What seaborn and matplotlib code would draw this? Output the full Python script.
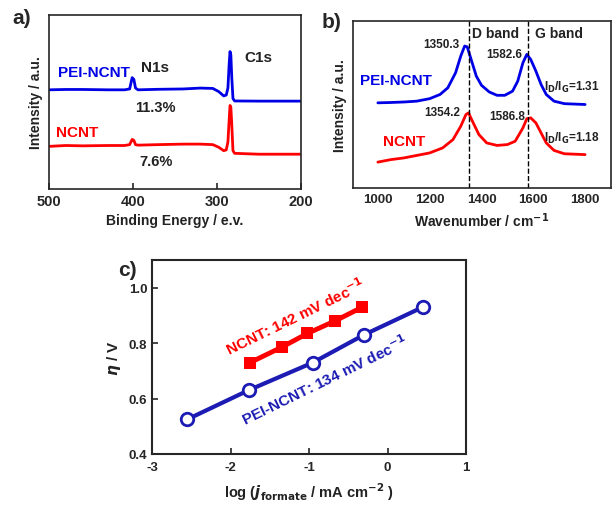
import matplotlib
matplotlib.use("Agg")
import matplotlib.pyplot as plt
import seaborn as sns
import numpy as np

# XPS survey (a)
xps_x = [500, 480, 460, 430, 410, 404, 401, 399, 397, 394, 370, 340, 320, 305, 298, 292,
         289, 287, 285.5, 284.5, 283.5, 282.5, 281, 279, 250, 200]
xps_pei = [0.57, 0.572, 0.572, 0.57, 0.57, 0.575, 0.64, 0.63, 0.58, 0.57, 0.573, 0.575, 0.58,
           0.578, 0.56, 0.535, 0.54, 0.58, 0.72, 0.79, 0.77, 0.65, 0.52, 0.506, 0.505, 0.505]
xps_ncnt = [0.245, 0.25, 0.248, 0.25, 0.25, 0.255, 0.285, 0.28, 0.255, 0.252, 0.255, 0.258,
            0.258, 0.255, 0.24, 0.22, 0.225, 0.27, 0.40, 0.48, 0.47, 0.38, 0.22, 0.205, 0.20, 0.20]

# Raman (b)
raman_x_pei = [1000, 1050, 1100, 1150, 1200, 1240, 1270, 1300, 1320, 1335, 1345, 1360, 1380,
               1400, 1430, 1460, 1490, 1520, 1540, 1560, 1575, 1590, 1610, 1630, 1650, 1680,
               1720, 1800]
raman_pei = [0.51, 0.512, 0.515, 0.52, 0.535, 0.56, 0.60, 0.69, 0.79, 0.85, 0.845, 0.77, 0.67,
             0.615, 0.575, 0.555, 0.555, 0.58, 0.64, 0.75, 0.80, 0.77, 0.70, 0.62, 0.56, 0.52,
             0.505, 0.50]
raman_x_ncnt = [1000, 1050, 1100, 1150, 1200, 1250, 1290, 1320, 1340, 1350, 1365, 1390, 1420,
                1460, 1500, 1530, 1560, 1575, 1590, 1610, 1630, 1650, 1680, 1720, 1800]
raman_ncnt = [0.155, 0.17, 0.18, 0.195, 0.21, 0.24, 0.29, 0.37, 0.44, 0.45, 0.40, 0.32, 0.27,
              0.255, 0.26, 0.28, 0.36, 0.415, 0.42, 0.39, 0.33, 0.27, 0.225, 0.205, 0.20]
d_band = 1350
g_band = 1580

# Tafel (c)
tafel_x_ncnt = [-1.75, -1.35, -1.02, -0.67, -0.32]
tafel_y_ncnt = [0.73, 0.785, 0.835, 0.88, 0.93]
tafel_x_pei = [-2.55, -1.77, -0.95, -0.30, 0.45]
tafel_y_pei = [0.525, 0.63, 0.73, 0.83, 0.93]

sns.set_style("ticks")
plt.rcParams['font.family'] = ['Liberation Sans', 'DejaVu Sans']
plt.rcParams['font.weight'] = 'bold'
plt.rcParams['axes.labelweight'] = 'bold'
plt.rcParams['axes.unicode_minus'] = False
plt.rcParams['xtick.direction'] = 'in'
plt.rcParams['ytick.direction'] = 'in'

blue = '#0000e6'
red = '#ff0000'
dblue = '#1c1cb4'
txt = '#222222'

W, H = 612, 506
fig = plt.figure(figsize=(W / 100, H / 100), dpi=100)


def box(l, t, r, b):
    return [l / W, 1 - b / H, (r - l) / W, (b - t) / H]


# ---- panel a
ax = fig.add_axes(box(49, 16, 301, 190))
sns.lineplot(x=xps_x, y=xps_pei, ax=ax, color=blue, lw=2, sort=False, estimator=None)
sns.lineplot(x=xps_x, y=xps_ncnt, ax=ax, color=red, lw=2, sort=False, estimator=None)
ax.set_xlim(500, 200)
ax.set_ylim(0, 1)
ax.set_yticks([])
ax.set_xticks([500, 400, 300, 200])
ax.tick_params(axis='x', labelsize=10.5, length=4, width=1.2)
ax.set_xlabel('Binding Energy / e.v.', fontsize=10, color=txt)
ax.set_ylabel('Intensity / a.u.', fontsize=10, color=txt)
ax.text(489, 0.672, 'PEI-NCNT', color=blue, fontsize=11, va='center')
ax.text(391, 0.70, 'N1s', color=txt, fontsize=11, va='center')
ax.text(267, 0.76, 'C1s', color=txt, fontsize=11, va='center')
ax.text(398, 0.47, '11.3%', color=txt, fontsize=10.5, va='center')
ax.text(492, 0.33, 'NCNT', color=red, fontsize=11, va='center')
ax.text(393, 0.16, '7.6%', color=txt, fontsize=10.5, va='center')
fig.text(12 / W, 1 - 18 / H, 'a)', fontsize=15, va='center')

# ---- panel b
bx = fig.add_axes(box(353, 22, 611, 189))
sns.lineplot(x=raman_x_pei, y=raman_pei, ax=bx, color=blue, lw=2, sort=False, estimator=None)
sns.lineplot(x=raman_x_ncnt, y=raman_ncnt, ax=bx, color=red, lw=2, sort=False, estimator=None)
bx.axvline(d_band, color='k', ls='--', lw=1)
bx.axvline(g_band, color='k', ls='--', lw=1)
bx.set_xlim(904, 1900)
bx.set_ylim(0, 1)
bx.set_yticks([])
bx.set_xticks([1000, 1200, 1400, 1600, 1800])
bx.tick_params(axis='x', labelsize=9.5, length=0)
bx.set_xlabel('Wavenumber / cm$^{\\mathbf{-1}}$', fontsize=10, color=txt)
bx.set_ylabel('Intensity / a.u.', fontsize=10, color=txt)
bx.text(1246, 0.862, '1350.3', color=txt, fontsize=8.5, ha='center', va='center')
bx.text(1488, 0.80, '1582.6', color=txt, fontsize=8.5, ha='center', va='center')
bx.text(1365, 0.93, 'D band', color=txt, fontsize=10, va='center')
bx.text(1608, 0.93, 'G band', color=txt, fontsize=10, va='center')
bx.text(931, 0.647, 'PEI-NCNT', color=blue, fontsize=11, va='center')
bx.text(1642, 0.61, 'I$_{\\mathbf{D}}$/I$_{\\mathbf{G}}$=1.31', color=txt, fontsize=8.5, va='center')
bx.text(1250, 0.455, '1354.2', color=txt, fontsize=8.5, ha='center', va='center')
bx.text(1500, 0.43, '1586.8', color=txt, fontsize=8.5, ha='center', va='center')
bx.text(1019, 0.28, 'NCNT', color=red, fontsize=11, va='center')
bx.text(1642, 0.30, 'I$_{\\mathbf{D}}$/I$_{\\mathbf{G}}$=1.18', color=txt, fontsize=8.5, va='center')
fig.text(322 / W, 1 - 22 / H, 'b)', fontsize=15, va='center')

# ---- panel c
cx = fig.add_axes(box(152, 261, 466, 455))
sns.lineplot(x=tafel_x_ncnt, y=tafel_y_ncnt, ax=cx, color=red, lw=3.5, marker='s',
             markersize=9, markeredgewidth=0, sort=False, estimator=None)
sns.lineplot(x=tafel_x_pei, y=tafel_y_pei, ax=cx, color=dblue, lw=3, marker='o',
             markersize=9, markerfacecolor='white', markeredgecolor=dblue,
             markeredgewidth=2, sort=False, estimator=None)
cx.set_xlim(-3, 1)
cx.set_ylim(0.4, 1.1)
cx.set_xticks([-3, -2, -1, 0, 1])
cx.set_yticks([0.4, 0.6, 0.8, 1.0])
cx.set_yticklabels(['0.4', '0.6', '0.8', '1.0'])
cx.tick_params(labelsize=9.5, length=4, width=1.2)
cx.tick_params(axis='x', pad=5)
for s in cx.spines.values():
    s.set_linewidth(1.5)
cx.set_xlabel('log ($\\mathbf{\\it{j}}_{\\mathbf{formate}}$ / mA cm$^{\\mathbf{-2}}$ )', fontsize=10.5,
              color=txt, labelpad=5)
cx.set_ylabel('$\\it{\\eta}$ / V', fontsize=11, color=txt)
cx.text(-1.17, 0.90, 'NCNT: 142 mV dec$^{\\mathbf{-1}}$', color=red, fontsize=11,
        rotation=26, ha='center', va='center', rotation_mode='anchor')
cx.text(-0.80, 0.67, 'PEI-NCNT: 134 mV dec$^{\\mathbf{-1}}$', color=dblue, fontsize=11,
        rotation=26, ha='center', va='center', rotation_mode='anchor')
fig.text(118 / W, 1 - 270 / H, 'c)', fontsize=15, va='center')

for a in (ax, bx):
    for s in a.spines.values():
        s.set_linewidth(1.2)

fig.savefig('out.png', dpi=100)
